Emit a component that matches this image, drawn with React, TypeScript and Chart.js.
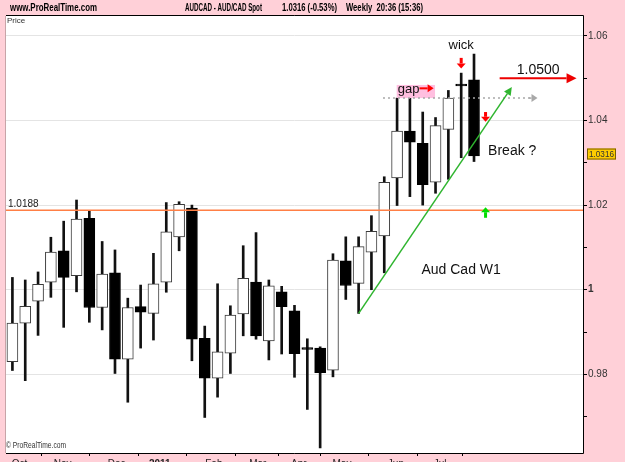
import { useEffect, useRef } from 'react';
import { Chart, registerables } from 'chart.js';

Chart.register(...registerables);

const FONT = "'Liberation Sans', Arial, sans-serif";
const PINK = '#ffd0d8';

// Weekly AUD/CAD candles
const opens = [0.9830, 0.9921, 0.9973, 1.0018, 1.0092, 1.0033, 1.0169, 0.9958, 1.0040, 0.9836, 0.9960, 0.9944, 1.0018, 1.0125, 1.0193, 0.9885, 0.9791, 0.9850, 0.9943, 1.0018, 0.9879, 0.9995, 0.9950, 0.9863, 0.9862, 0.9810, 1.0068, 1.0015, 1.0089, 1.0127, 1.0264, 1.0375, 1.0346, 1.0254, 1.0379, 1.0486, 1.0496];
const closes = [0.9921, 0.9961, 1.0013, 1.0089, 1.0029, 1.0167, 0.9958, 1.0037, 0.9836, 0.9958, 0.9947, 1.0014, 1.0137, 1.0202, 0.9883, 0.9791, 0.9853, 0.9940, 1.0027, 0.9891, 1.0009, 0.9960, 0.9849, 0.9859, 0.9804, 1.0070, 1.0010, 1.0102, 1.0138, 1.0254, 1.0375, 1.0349, 1.0248, 1.0388, 1.0453, 1.0482, 1.0316];
const highs = [1.0029, 1.0023, 1.0042, 1.0124, 1.0162, 1.0212, 1.0186, 1.0114, 1.0094, 0.9980, 1.0011, 1.0086, 1.0206, 1.0208, 1.0200, 0.9914, 1.0014, 0.9962, 1.0104, 1.0135, 1.0023, 1.0008, 0.9963, 0.9884, 0.9865, 1.0085, 1.0125, 1.0125, 1.0175, 1.0267, 1.0453, 1.0453, 1.0420, 1.0407, 1.0471, 1.0512, 1.0557];
const lows = [0.9809, 0.9785, 0.9892, 0.9982, 0.9911, 0.9995, 0.9923, 0.9905, 0.9802, 0.9734, 0.9862, 0.9881, 0.9994, 1.0092, 0.9832, 0.9698, 0.9746, 0.9802, 0.9891, 0.9883, 0.9834, 0.9848, 0.9793, 0.9717, 0.9626, 0.9794, 0.9977, 0.9944, 1.0000, 1.0040, 1.0199, 1.0220, 1.0200, 1.0228, 1.0261, 1.0312, 1.0303];

const monthLabels = ['Oct', 'Nov', 'Dec', '2011', 'Feb', 'Mar', 'Apr', 'May', 'Jun', 'Jul'];
const monthPos = [0.56, 3.92, 8.13, 11.49, 15.71, 19.14, 22.34, 25.7, 29.91, 33.35];
const yTicks = [0.97, 0.98, 0.99, 1.0, 1.01, 1.02, 1.03, 1.04, 1.05, 1.06];
const Y_MIN = 0.9614;
const Y_MAX = 1.0647;
const X_MIN = -0.5;
const X_MAX = 44.5;

const supportLevel = 1.0188;
const gapLevel = 1.0453;
const targetLevel = 1.05;
const lastPrice = 1.0316;
const trendStart = [27, 0.9944];
const trendEnd = [38.95, 1.0479];

const isMajor = (v: number) => Math.abs(v * 50 - Math.round(v * 50)) < 1e-6;

function arrow(ctx: CanvasRenderingContext2D, x1: number, y1: number, x2: number, y2: number, color: string, width: number, head: number, headW: number) {
  const ang = Math.atan2(y2 - y1, x2 - x1);
  const bx = x2 - head * Math.cos(ang);
  const by = y2 - head * Math.sin(ang);
  ctx.save();
  ctx.strokeStyle = color;
  ctx.fillStyle = color;
  ctx.lineWidth = width;
  ctx.beginPath();
  ctx.moveTo(x1, y1);
  ctx.lineTo(bx, by);
  ctx.stroke();
  ctx.beginPath();
  ctx.moveTo(x2, y2);
  ctx.lineTo(bx + headW * Math.sin(ang), by - headW * Math.cos(ang));
  ctx.lineTo(bx - headW * Math.sin(ang), by + headW * Math.cos(ang));
  ctx.closePath();
  ctx.fill();
  ctx.restore();
}

const decor = {
  id: 'decor',
  beforeDraw(chart: any) {
    const { ctx, chartArea: a, width, height } = chart;
    ctx.save();
    ctx.fillStyle = PINK;
    ctx.fillRect(0, 0, width, height);
    ctx.fillStyle = '#ffffff';
    ctx.fillRect(a.left, a.top, a.right - a.left, a.bottom - a.top);
    ctx.restore();
  },
  afterDatasetsDraw(chart: any) {
    const { ctx, chartArea: a } = chart;
    const xs = chart.scales.x;
    const ys = chart.scales.y;
    const X = (v: number) => xs.getPixelForValue(v);
    const Y = (v: number) => ys.getPixelForValue(v);
    ctx.save();
    ctx.beginPath();
    ctx.rect(a.left, a.top, a.right - a.left, a.bottom - a.top);
    ctx.clip();

    // support line
    ctx.strokeStyle = '#ff7f45';
    ctx.lineWidth = 1.5;
    ctx.beginPath();
    ctx.moveTo(a.left, Y(supportLevel));
    ctx.lineTo(a.right, Y(supportLevel));
    ctx.stroke();
    ctx.fillStyle = '#222';
    ctx.font = `10px ${FONT}`;
    ctx.textBaseline = 'alphabetic';
    ctx.textAlign = 'left';
    ctx.fillText(supportLevel.toFixed(4), a.left + 2, Y(supportLevel) - 3);

    // gap box
    const gx1 = X(29.97), gx2 = X(32.96);
    ctx.fillStyle = '#ffbfe0';
    ctx.fillRect(gx1, Y(1.0484), gx2 - gx1, Y(gapLevel) - Y(1.0484));

    // gap dotted line
    ctx.setLineDash([2, 3]);
    ctx.strokeStyle = '#a8a8a8';
    ctx.lineWidth = 1.5;
    ctx.beginPath();
    ctx.moveTo(X(28.9), Y(gapLevel));
    ctx.lineTo(X(40.4), Y(gapLevel));
    ctx.stroke();
    ctx.setLineDash([]);
    arrow(ctx, X(40.3), Y(gapLevel), X(40.95), Y(gapLevel), '#a8a8a8', 1.5, 6, 4);

    ctx.fillStyle = '#111';
    ctx.font = `13px ${FONT}`;
    ctx.textBaseline = 'middle';
    ctx.fillText('gap', gx1 + 1, Y(1.0474));
    arrow(ctx, X(31.75), Y(1.0476), X(32.85), Y(1.0476), '#ff0000', 2, 6, 4);

    // trend line
    arrow(ctx, X(trendStart[0]), Y(trendStart[1]), X(trendEnd[0]), Y(trendEnd[1]), '#2fb52f', 1.5, 8, 4);

    // target arrow
    arrow(ctx, X(38.0), Y(targetLevel), X(44.0), Y(targetLevel), '#ee0000', 2, 10, 5);
    ctx.fillStyle = '#111';
    ctx.font = `14px ${FONT}`;
    ctx.textAlign = 'center';
    ctx.fillText(targetLevel.toFixed(4), X(41.0), Y(1.0519));

    // wick text + red down arrows
    ctx.font = `13px ${FONT}`;
    ctx.fillText('wick', X(35.0), Y(1.0577));
    arrow(ctx, X(35.0), Y(1.0548), X(35.0), Y(1.0523), '#ff0000', 3, 5, 4.5);
    arrow(ctx, X(36.9), Y(1.0420), X(36.9), Y(1.0397), '#ff0000', 3, 5, 4.5);

    // green up arrow
    arrow(ctx, X(36.9), Y(1.0170), X(36.9), Y(1.0195), '#00dd00', 3, 5, 4.5);

    ctx.fillStyle = '#111';
    ctx.textAlign = 'left';
    ctx.font = `14px ${FONT}`;
    ctx.fillText('Break ?', X(37.1), Y(1.0327));
    ctx.fillText('Aud Cad W1', X(31.9), Y(1.0047));

    ctx.restore();
  },
  afterDraw(chart: any) {
    const { ctx, chartArea: a } = chart;
    const ys = chart.scales.y;
    ctx.save();
    // frame
    ctx.lineWidth = 1;
    ctx.strokeStyle = '#000';
    ctx.beginPath();
    ctx.moveTo(a.left, a.top - 0.5);
    ctx.lineTo(a.right + 0.5, a.top - 0.5);
    ctx.lineTo(a.right + 0.5, a.bottom + 0.5);
    ctx.lineTo(a.left, a.bottom + 0.5);
    ctx.stroke();
    ctx.strokeStyle = '#c8a4a8';
    ctx.beginPath();
    ctx.moveTo(a.left - 0.5, a.top);
    ctx.lineTo(a.left - 0.5, a.bottom);
    ctx.stroke();

    // header
    ctx.fillStyle = '#000';
    ctx.textBaseline = 'middle';
    ctx.textAlign = 'left';
    ctx.font = `bold 11px ${FONT}`;
    ctx.fillText('www.ProRealTime.com', 10, 7.5, 87);
    ctx.fillText('AUDCAD - AUD/CAD Spot', 185, 7.5, 77);
    ctx.fillText('1.0316 (-0.53%)', 282, 7.5, 55);
    ctx.fillText('Weekly  20:36 (15:36)', 346, 7.5, 77);

    ctx.font = `8px ${FONT}`;
    ctx.fillStyle = '#333';
    ctx.fillText('Price', a.left + 1, a.top + 5);
    ctx.font = `9px ${FONT}`;
    ctx.fillText('\u00a9 ProRealTime.com', a.left, a.bottom - 7, 60);

    // last price tag
    const py = ys.getPixelForValue(lastPrice) - 2;
    ctx.fillStyle = '#ffcc00';
    ctx.fillRect(a.right + 4, py - 5.5, 29, 11);
    ctx.strokeStyle = '#7a5c00';
    ctx.strokeRect(a.right + 4.5, py - 5, 28, 10);
    ctx.fillStyle = '#333';
    ctx.font = `9px ${FONT}`;
    ctx.fillText(lastPrice.toFixed(4), a.right + 6, py + 0.5, 25);
    ctx.restore();
  },
};

export default function App() {
  const ref = useRef<HTMLCanvasElement>(null);
  useEffect(() => {
    document.body.style.margin = '0';
    const bodies = opens.map((o, i) => ({ x: i, y: [o, closes[i]] }));
    const wicks = lows.map((l, i) => ({ x: i, y: [l, highs[i]] }));
    const up = opens.map((o, i) => closes[i] >= o);
    const chart = new Chart(ref.current as HTMLCanvasElement, {
      type: 'bar',
      data: {
        datasets: [
          {
            label: 'body',
            data: bodies as any,
            order: 0,
            grouped: false,
            barThickness: 11,
            backgroundColor: up.map((u) => (u ? '#ffffff' : '#000000')),
            borderColor: up.map((u) => (u ? '#3a3a3a' : '#000000')),
            borderWidth: 1,
            borderSkipped: false,
          } as any,
          {
            label: 'wick',
            data: wicks as any,
            order: 1,
            grouped: false,
            barThickness: 2,
            backgroundColor: '#111111',
            borderWidth: 0,
          } as any,
        ],
      },
      options: {
        animation: false,
        responsive: false,
        devicePixelRatio: 1,
        events: [],
        layout: { padding: { left: 6, top: 16, right: 0, bottom: 0 } },
        plugins: { legend: { display: false }, tooltip: { enabled: false } },
        scales: {
          x: {
            type: 'linear',
            min: X_MIN,
            max: X_MAX,
            offset: false,
            afterBuildTicks: (s: any) => {
              s.ticks = monthPos.map((v) => ({ value: v }));
            },
            afterFit: (s: any) => {
              s.height = 9;
            },
            grid: { display: true, drawOnChartArea: false, drawTicks: true, tickLength: 3, tickColor: '#000' },
            border: { display: false },
            ticks: {
              autoSkip: false,
              maxRotation: 0,
              padding: 2,
              color: '#222',
              font: (c: any) => ({ family: FONT, size: 10, weight: c.index === 3 ? 'bold' : 'normal' }),
              callback: (_v: any, i: number) => monthLabels[i],
            },
          } as any,
          y: {
            type: 'linear',
            position: 'right',
            min: Y_MIN,
            max: Y_MAX,
            afterBuildTicks: (s: any) => {
              s.ticks = yTicks.map((v) => ({ value: v }));
            },
            afterFit: (s: any) => {
              s.width = 42;
            },
            grid: {
              color: (c: any) => (c.tick && isMajor(c.tick.value) ? '#e4e4e4' : 'rgba(0,0,0,0)'),
              lineWidth: 1,
              drawTicks: true,
              tickLength: 4,
              tickColor: '#000',
              tickWidth: 1,
            },
            border: { display: false },
            ticks: {
              autoSkip: false,
              padding: 1,
              color: '#333',
              font: (c: any) => ({ family: FONT, size: 10, weight: c.tick && Math.abs(c.tick.value - 1) < 1e-9 ? 'bold' : 'normal' }),
              callback: (v: any) => {
                const n = Number(v);
                if (!isMajor(n)) return '';
                return Math.abs(n - 1) < 1e-9 ? '1' : n.toFixed(2);
              },
            },
          } as any,
        },
      },
      plugins: [decor],
    });
    return () => chart.destroy();
  }, []);
  return (
    <div style={{ position: 'fixed', left: 0, top: 0, width: 625, height: 462 }}>
      <canvas ref={ref} width={625} height={462} style={{ display: 'block' }} />
    </div>
  );
}
